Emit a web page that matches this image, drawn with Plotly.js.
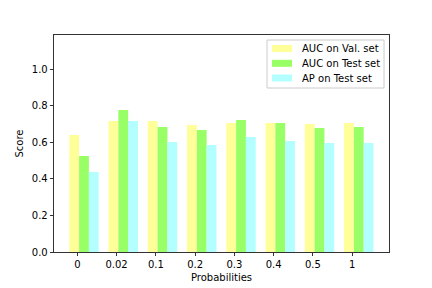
<!DOCTYPE html>
<html>
<head>
<meta charset="utf-8">
<script src="https://cdn.plot.ly/plotly-3.0.1.min.js"></script>
<style>html,body{margin:0;padding:0;background:#fff;}#chart{width:432px;height:288px;}</style>
</head>
<body>
<div id="chart"></div>
<script>
const categories = ["0", "0.02", "0.1", "0.2", "0.3", "0.4", "0.5", "1"];
const aucVal  = [0.639, 0.716, 0.716, 0.694, 0.705, 0.705, 0.699, 0.705];
const aucTest = [0.525, 0.776, 0.683, 0.667, 0.721, 0.705, 0.678, 0.683];
const apTest  = [0.437, 0.716, 0.601, 0.585, 0.628, 0.607, 0.596, 0.596];
const seriesNames = ["AUC on Val. set", "AUC on Test set", "AP on Test set"];
const yTicks = [0, 0.2, 0.4, 0.6, 0.8, 1.0];

const idx = categories.map((c, i) => i);
const offsets = [-0.08, 0.17, 0.42];
const colors = ["#ffff99", "#99ff66", "#b3ffff"];
const values = [aucVal, aucTest, apTest];

const traces = values.map((v, k) => ({
  type: "bar",
  x: idx.map(i => i + offsets[k]),
  y: v,
  width: 0.25,
  name: seriesNames[k],
  showlegend: false,
  marker: {color: colors[k], line: {width: 0}}
}));

// Plot area in pixels: x 54..389, y 35..252
const px = p => (p - 54) / 335;
const py = p => (252 - p) / 217;

const shapes = [{
  type: "rect", xref: "paper", yref: "paper",
  x0: px(267), x1: px(384), y0: py(88), y1: py(40),
  fillcolor: "rgba(255,255,255,0.8)", line: {color: "#cccccc", width: 1}
}];
const annotations = [];
const rowCenters = [48.5, 63.3, 78];
seriesNames.forEach((n, k) => {
  shapes.push({
    type: "rect", xref: "paper", yref: "paper",
    x0: px(272), x1: px(292), y0: py(rowCenters[k] + 3.5), y1: py(rowCenters[k] - 3.5),
    fillcolor: colors[k], line: {width: 0}
  });
  annotations.push({
    xref: "paper", yref: "paper", x: px(300), y: py(rowCenters[k]),
    xanchor: "left", yanchor: "middle", showarrow: false,
    text: n, font: {family: "DejaVu Sans", size: 10, color: "#000"}
  });
});

const layout = {
  width: 432, height: 288,
  margin: {l: 54, r: 43, t: 35, b: 36, pad: 0},
  paper_bgcolor: "#fff", plot_bgcolor: "#fff",
  font: {family: "DejaVu Sans", size: 10, color: "#000"},
  showlegend: false,
  barmode: "overlay",
  shapes: shapes,
  annotations: annotations,
  xaxis: {
    range: [-0.594, 7.94],
    tickmode: "array", tickvals: idx, ticktext: categories,
    ticks: "outside", ticklen: 3.5, tickwidth: 0.8, tickcolor: "#000",
    showline: true, linecolor: "#000", linewidth: 0.8, mirror: true,
    showgrid: false, zeroline: false,
    title: {text: "Probabilities", font: {size: 10}, standoff: 4}
  },
  yaxis: {
    range: [0, 1.186],
    tickmode: "array", tickvals: yTicks, ticktext: yTicks.map(t => t.toFixed(1)),
    ticks: "outside", ticklen: 3.5, tickwidth: 0.8, tickcolor: "#000",
    showline: true, linecolor: "#000", linewidth: 0.8, mirror: true,
    showgrid: false, zeroline: false,
    title: {text: "Score", font: {size: 10}, standoff: 6}
  }
};

Plotly.newPlot("chart", traces, layout, {displayModeBar: false, staticPlot: true});
</script>
</body>
</html>
